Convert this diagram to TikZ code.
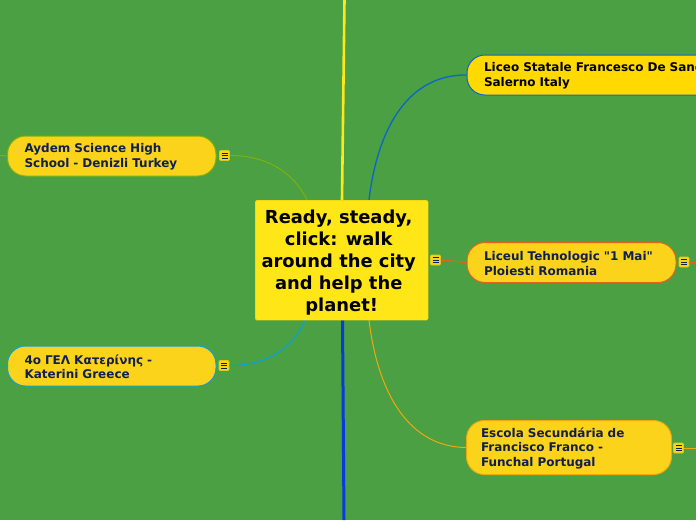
\documentclass[tikz,border=0pt]{standalone}
\usepackage{fontspec}
\newfontfamily\df{DejaVu Sans}
\newcommand{\smallup}{\rule{0pt}{11pt}}
\newcommand{\bigup}{\rule{0pt}{19pt}}
\newcommand{\trail}{\kern6pt}
\definecolor{bg}{HTML}{4AA042}
\definecolor{mainy}{HTML}{FFE616}
\definecolor{suby}{HTML}{FBD31B}
\definecolor{liceoy}{HTML}{FFD900}
\definecolor{navy}{HTML}{0F1F50}
\definecolor{lgreen}{HTML}{7FB00E}
\definecolor{lblue}{HTML}{0B66C8}
\definecolor{lred}{HTML}{E8601E}
\definecolor{lcyan}{HTML}{0EA0D0}
\definecolor{lorange}{HTML}{F2A80C}
\definecolor{vyellow}{HTML}{FFE81A}
\definecolor{vblue}{HTML}{0A3ADC}
\definecolor{menuedge}{HTML}{E0C81A}
\tikzset{
  topic/.style={draw, line width=1pt, fill=suby, rounded corners=18pt, text=navy,
    font=\df\bfseries\fontsize{12}{14.5}\selectfont, align=left, anchor=north west,
    inner xsep=17pt, inner ysep=0pt},
  mainbox/.style={fill=mainy, draw=mainy!85!black, line width=.4pt, rounded corners=1.5pt, text=black,
    font=\df\bfseries\fontsize{17.9}{22}\selectfont, align=center, anchor=north west,
    minimum width=173pt, minimum height=120pt, inner sep=0pt},
  menu/.style={fill=suby, draw=menuedge, line width=.6pt, rounded corners=1pt,
    minimum width=10pt, minimum height=10pt, inner sep=0pt,
    path picture={\draw[navy, line width=.7pt]
      ([xshift=-3pt,yshift=2.6pt]path picture bounding box.center) -- ++(6pt,0)
      ([xshift=-3pt]path picture bounding box.center) -- ++(6pt,0)
      ([xshift=-3pt,yshift=-2.6pt]path picture bounding box.center) -- ++(6pt,0);}},
  link/.style={line width=1pt}
}
\begin{document}
\begin{tikzpicture}[x=1pt,y=-1pt]
\useasboundingbox (0,0) rectangle (696,520);
\clip (0,0) rectangle (696,520);
\fill[bg] (0,0) rectangle (696,520);
% free ends and attachment points
\coordinate (topEnd) at (344.5,0);
\coordinate (botEnd) at (344,520);
\coordinate (leftA) at (0,155.5);
\coordinate (leftB) at (0,365.5);
\coordinate (rightL) at (696,262);
\coordinate (rightE) at (696,448);
\coordinate (cTop) at (342,200);
\coordinate (cBot) at (342.5,320);
\coordinate (cNW) at (307,200);
\coordinate (cSW) at (305,320);
\coordinate (cNE) at (369,200);
\coordinate (cSE) at (369,320);
% nodes
\node[topic, draw=lgreen, minimum height=40pt, text width=174.5pt] (aydem) at (7,135.5) {\smallup Aydem Science High\\School - Denizli Turkey};
\node[topic, draw=lcyan, minimum height=40pt, text width=174.5pt] (kat) at (7,345.5) {\smallup 4o ΓΕΛ Κατερίνης -\\Katerini Greece};
\node[topic, draw=lblue, fill=liceoy, text=black, minimum height=40pt, text width=280pt] (liceo) at (466.5,54.5) {\smallup Liceo Statale Francesco De Sanctis\\Salerno Italy};
\node[topic, draw=lred, minimum height=40pt, text width=175pt] (liceul) at (466.5,242) {\smallup Liceul Tehnologic "1 Mai"\\Ploiesti Romania};
\node[topic, draw=lorange, minimum height=54pt, inner xsep=14.5pt, text width=176pt] (escola) at (466,420) {\smallup Escola Secundária de\\Francisco Franco -\\Funchal Portugal};
\node[menu] (mA) at (224.5,155.5) {};
\node[menu] (mK) at (224,365.5) {};
\node[menu] (mC) at (435.5,260) {};
\node[menu] (mL) at (684,262) {};
\node[menu] (mE) at (678.5,448) {};
% connectors
\draw[vyellow, line width=2.6pt] (topEnd) -- (cTop);
\draw[vblue, line width=3pt] (cBot) -- (botEnd);
\draw[link, lgreen] (mA.east) .. controls (270,155.5) and (295,175) .. (cNW);
\draw[link, lgreen] (leftA) -- (aydem.west);
\draw[link, lcyan, line width=1.2pt] (mK.east) .. controls (270,365.5) and (295,345) .. (cSW);
\draw[link, lcyan] (leftB) -- (kat.west);
\draw[link, lblue, line width=1.3pt] (cNE) .. controls (378,125) and (410,74.5) .. (liceo.west);
\draw[link, lorange] (cSE) .. controls (378,395) and (410,447) .. (escola.west);
\draw[link, lred, line width=1.3pt] (mC.east) -- (liceul.west);
\draw[link, lred] (mL.east) -- (rightL);
\draw[link, lorange] (mE.east) -- (rightE);
\node[mainbox] (center) at (255,200) {\bigup Ready, steady,\trail\\click: walk\trail\\around the city\trail\\and help the\trail\\planet!};
\end{tikzpicture}
\end{document}
